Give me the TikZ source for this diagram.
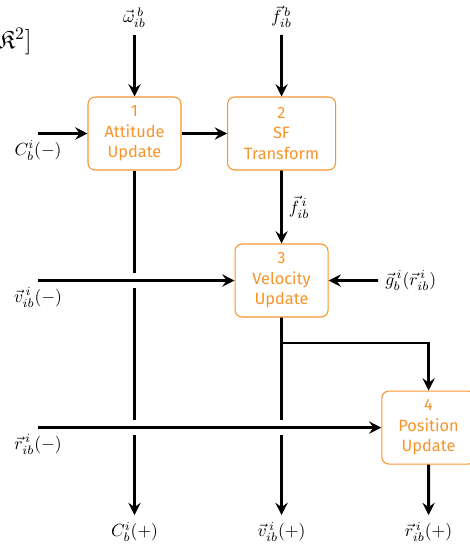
\documentclass[tikz,border=0pt]{standalone}
\usepackage{amssymb}
\usepackage{fontspec}
\setsansfont{Fira Sans}
\usetikzlibrary{arrows.meta,positioning}
\definecolor{boxorange}{RGB}{247,148,42}

\begin{document}
\begin{tikzpicture}
	[scale=2.94,ultra thick,>={Stealth[length=7pt,width=7pt,inset=2.5pt]},
	block/.style={draw=boxorange,line width=0.6pt,rounded corners=4pt,text=boxorange,font=\sffamily\fontsize{9.3}{11.6}\selectfont,align=center,minimum width=1.86cm,minimum height=1.46cm,inner xsep=0.33cm},
	every edge/.style={draw,->}]

	\useasboundingbox (-0.915,0.908) rectangle (2.276,-2.799);
	%\draw[help lines] (-1,-3) grid (3,1);
	\node[anchor=east,inner sep=0,font=\Large] (frag) at (-0.69,0.625) {$\mathfrak{K}^2\Big]$};

	\node[block] (1) at (0,0) {1\\Attitude\\Update};
	\node[block] (2) at (1,0) {2\\SF\\Transform};
	\node[block] (3) at (1,-1) {3\\Velocity\\Update};
	\node[block] (4) at (2,-2) {4\\Position\\Update};

	\coordinate (w) at (0,0.67);
	\coordinate (fb) at (1,0.67);
	\coordinate (cin) at (-0.656,0);
	\coordinate (vin) at (-0.656,-1);
	\coordinate (rin) at (-0.656,-2);
	\coordinate (gin) at (1.656,-1);
	\coordinate (split) at (1,-1.425);
	\coordinate (cout) at (0,-2.595);
	\coordinate (vout) at (1,-2.595);
	\coordinate (rout) at (2,-2.595);

	\node[above] at (w) {$\vec{\omega}^{\,b}_{ib}$};
	\node[above] at (fb) {$\vec{f}^{\,b}_{ib}$};
	\node[below] at (cin) {$C^i_b(-)$};
	\node[below] at (vin) {$\vec{v}^{\,i}_{ib}(-)$};
	\node[below] at (rin) {$\vec{r}^{\,i}_{ib}(-)$};
	\node[right] at (gin) {$\vec{g}^{\,i}_b(\vec{r}^{\,i}_{ib})$};
	\node[below] at (cout) {$C^i_b(+)$};
	\node[below] at (vout) {$\vec{v}^{\,i}_{ib}(+)$};
	\node[below] at (rout) {$\vec{r}^{\,i}_{ib}(+)$};

	\path (w) edge (1);
	\path (fb) edge (2);
	\path (cin) edge (1);
	\path (1) edge (2);
	\path (2) edge node[right] {$\vec{f}^{\,i}_{ib}$} (3);
	\path (gin) edge (3);
	\path (1) edge (cout);
	\path (3) edge (vout);
	\draw[->] (split) -| (4);
	\path (4) edge (rout);

	% gaps where the inputs cross
	\foreach \p in {(0,-1),(0,-2),(1,-2)}
		\fill[white] \p ++(-0.03,-0.051) rectangle ++(0.06,0.102);

	\path (vin) edge (3);
	\path (rin) edge (4);

\end{tikzpicture}
\end{document}
